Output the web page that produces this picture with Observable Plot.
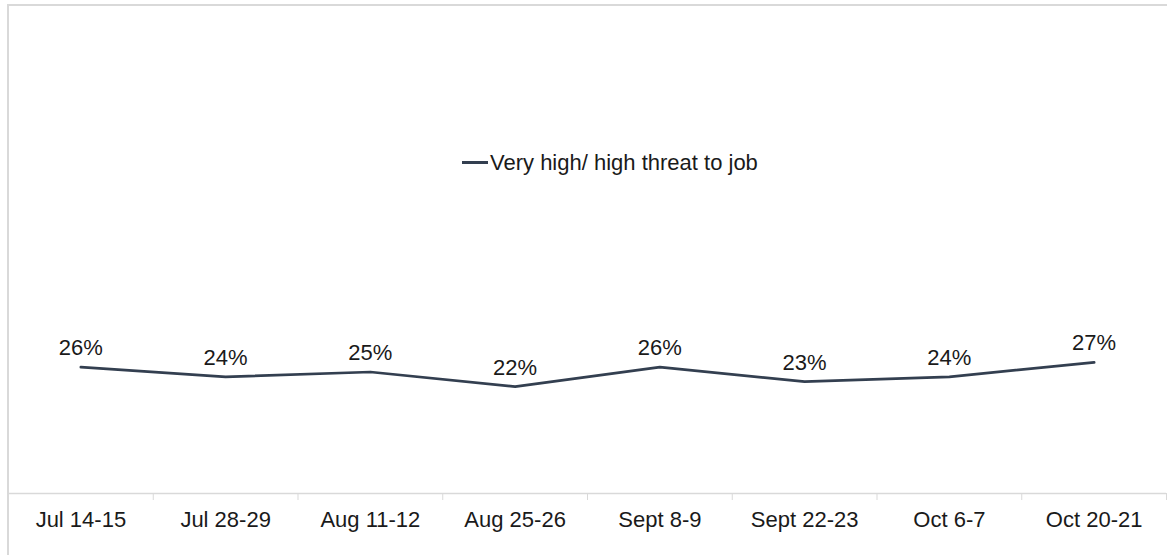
<!DOCTYPE html>
<html><head><meta charset="utf-8">
<script src="https://cdn.jsdelivr.net/npm/d3@7"></script>
<script src="https://cdn.jsdelivr.net/npm/@observablehq/plot@0.6"></script>
<style>
body{margin:0;background:#fff;font-family:"Liberation Sans",Arial,sans-serif;}
#wrap{position:relative;width:1167px;height:555px;overflow:hidden}
#frame{position:absolute;left:7px;top:4px;width:1200px;height:600px;border-left:2px solid #d9d9d9;border-top:2px solid #d9d9d9;pointer-events:none}
#legend{position:absolute;left:462px;top:150px;font-size:22px;line-height:25px;color:#1a1a1a;display:flex;align-items:center;white-space:nowrap}
#legend .sw{display:inline-block;width:26px;height:3px;background:#333f50;margin-right:2px}
svg{display:block}
</style>
</head><body>
<div id="wrap"><div id="chart"></div><div id="frame"></div><div id="legend"></div></div>
<script>
const categories = ["Jul 14-15","Jul 28-29","Aug 11-12","Aug 25-26","Sept 8-9","Sept 22-23","Oct 6-7","Oct 20-21"];
const values = [0.26, 0.24, 0.25, 0.22, 0.26, 0.23, 0.24, 0.27];
const seriesName = "Very high/ high threat to job";
const labels = values.map(v => Math.round(v * 100) + "%");

const data = categories.map((c, i) => ({i, c, v: values[i], label: labels[i]}));
const boundaries = d3.range(-0.5, categories.length, 1);
const centers = d3.range(categories.length);

const chart = Plot.plot({
  width: 1167, height: 555,
  marginLeft: 8, marginRight: 1, marginTop: 7, marginBottom: 62,
  style: {fontFamily: "Liberation Sans, Arial, sans-serif", fontSize: "22px", color: "#1a1a1a", background: "transparent"},
  x: {domain: [-0.5, categories.length - 0.5], axis: null},
  y: {domain: [0, 1], axis: null},
  marks: [
    Plot.ruleY([0], {stroke: "#d9d9d9", strokeWidth: 1.5}),
    Plot.axisX(boundaries, {tickSize: 7, stroke: "#d9d9d9", tickFormat: () => "", label: null}),
    Plot.axisX(centers, {tickSize: 0, tickPadding: 18, tickFormat: i => categories[i], fontSize: 22, fill: "#1a1a1a", label: null}),
    Plot.line(data, {x: "i", y: "v", stroke: "#333f50", strokeWidth: 2.75, strokeLinejoin: "round"}),
    Plot.text(data, {x: "i", y: "v", text: "label", dy: -19, fontSize: 22, fill: "#1a1a1a"})
  ]
});
document.getElementById("chart").appendChild(chart);
const lg = document.getElementById("legend");
lg.innerHTML = '<span class="sw"></span><span></span>';
lg.lastChild.textContent = seriesName;
</script>
</body></html>
